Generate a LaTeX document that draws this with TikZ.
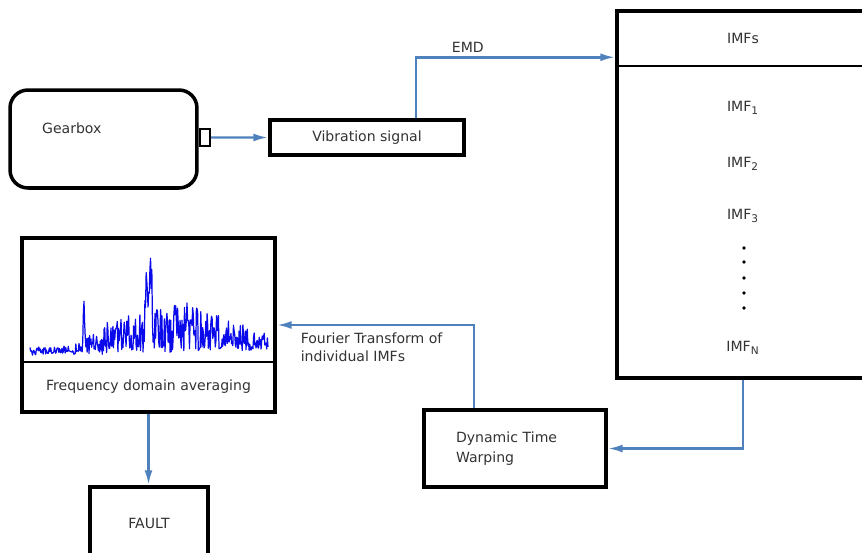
\documentclass[tikz,border=0pt]{standalone}
\usepackage{fontspec}
\setmainfont{DejaVu Sans}
\usepackage{xcolor}
\usetikzlibrary{positioning, arrows.meta}

\definecolor{linkblue}{RGB}{79,129,189}
\definecolor{textgrey}{RGB}{51,51,51}
\definecolor{plotblue}{RGB}{10,10,235}

\begin{document}
\begin{tikzpicture}[
    x=0.02cm, y=-0.02cm,
    font=\fontsize{8}{10}\selectfont, text=textgrey,
    box/.style={rectangle, draw=black, line width=2pt, fill=white, inner sep=2pt},
    divider/.style={draw=black, line width=1.3pt},
    arrow/.style={-{Latex[length=8.5pt, width=4.5pt]}, draw=linkblue, line width=1.4pt},
    lbl/.style={inner sep=1pt, align=left}
]
\useasboundingbox (0,0) rectangle (862,552);
\clip (0,0) rectangle (862,552);

% Nodes
\node[box, rounded corners=0.36cm, minimum width=3.74cm, minimum height=1.96cm] (gearbox) at (103.5,139) {};
\node[lbl, anchor=west] (gearboxtxt) at (40,128) {Gearbox};
\node[box, line width=1.4pt, minimum width=0.2cm, minimum height=0.34cm, inner sep=0pt, anchor=west] (port) at ([yshift=0.03cm]gearbox.east) {};
\node[box, minimum width=3.88cm, minimum height=0.7cm] (vib) at (367,137.5) {Vibration signal};

\node[box, minimum width=5.04cm, minimum height=7.34cm] (imfs) at (743,194.5) {};
\draw[divider] (imfs.west |- 0,66) -- (imfs.east |- 0,66);
\node (imfshead) at (743,38) {IMFs};
\node (imf1) at (743,108) {IMF\textsubscript{1}};
\node (imf2) at (743,164) {IMF\textsubscript{2}};
\node (imf3) at (743,216) {IMF\textsubscript{3}};
\foreach \y in {248,262,278,293,308}
    \fill[black] (744,\y) circle (1.1pt);
\node (imfn) at (743,348) {IMF\textsubscript{N}};

\node[box, minimum width=3.64cm, minimum height=1.54cm, text width=2.36cm, align=left,
      font=\fontsize{8}{11.5}\selectfont] (dtw) at (515,448.5) {Dynamic Time\\Warping};

\node[box, minimum width=5.06cm, minimum height=3.48cm] (freq) at (148.5,325) {};
\draw[divider] (freq.west |- 0,362) -- (freq.east |- 0,362);
\node (freqtxt) at (148.5,387) {Frequency domain averaging};

\node[box, minimum width=2.36cm, minimum height=1.44cm] (fault) at (149,523) {FAULT};

% Spectrum
\pgfmathsetseed{7}
\draw[plotblue, line width=0.7pt, line join=round] plot[domain=30:268, samples=380]
    (\x, {351 - 0.02*(\x-30) + 5*rnd
          - (5+8*max(0,1-abs(\x-105)/45)+48*max(0,1-abs(\x-178)/105))*pow(rnd,1.5)
          - 82*max(0,1-abs(\x-147)/3)*(0.5+0.5*rnd)
          - 80*max(0,1-abs(\x-151)/2.5)*(0.5+0.5*rnd)
          - 45*max(0,1-abs(\x-84)/1.5)});

% Arrows
\draw[arrow] (port.east) -- (vib.west);
\draw[arrow] ([xshift=0.98cm]vib.north) |- node[pos=0.63, above, inner sep=2pt] {EMD} ([yshift=-0.96cm]imfs.north west);
\draw[arrow] (imfs.south) |- (dtw.east);
\draw[arrow] ([xshift=-0.82cm]dtw.north) |- node[pos=0.96, anchor=north west, lbl, inner sep=4pt] {Fourier Transform of\\individual IMFs} (freq.east);
\draw[arrow] (freq.south) -- (freq.south |- fault.north);

\end{tikzpicture}
\end{document}
